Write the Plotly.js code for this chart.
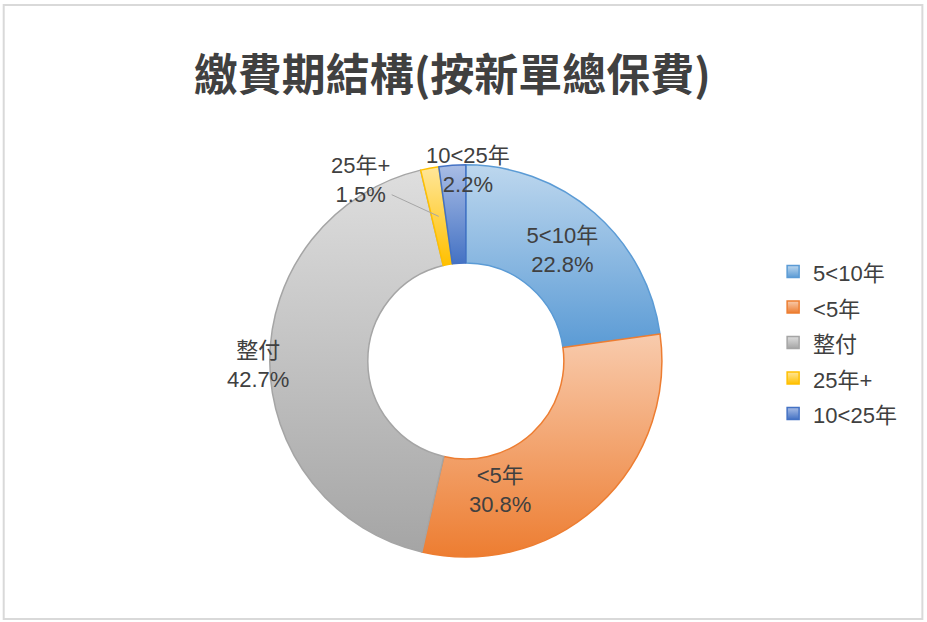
<!DOCTYPE html>
<html>
<head>
<meta charset="utf-8">
<script src="https://cdn.plot.ly/plotly-3.0.1.min.js"></script>
<style>
  html, body { margin: 0; padding: 0; background: #ffffff; }
  #chart { width: 927px; height: 622px; }
</style>
</head>
<body>
<div id="chart"></div>
<script>
// payment-term structure, share of new-business premium (%)
const terms = ['5<10年', '<5年', '整付', '25年+', '10<25年'];
const shares = [22.8, 30.8, 42.7, 1.5, 2.2];
const labelPlace = ['inside', 'none', 'none', 'none', 'none'];

// excel "best fit" label spots: [angle shift from slice middle (deg), radius as share of R]
const labelNudge = [null, [27.7, 0.68], [-0.9, 1.06], [0, 0.75], [4.6, 0.975]];

const theme = {
    text: '#404040',
    font: 'Liberation Sans, Noto Sans CJK TC, sans-serif',
    size: 22,
    edge: ['#5B9BD5', '#ED7D31', '#A5A5A5', '#FFC000', '#4472C4'],
    // [top, bottom] of the excel style gradient
    fill: [['#BDD7EE', '#5B9BD5'], ['#F8CBAD', '#ED7D31'], ['#DEDEDE', '#A5A5A5'],
           ['#FFE699', '#FFC000'], ['#A9BDE5', '#4472C4']]
};

const pieDomain = { x: [0.291, 0.714], y: [0.1045, 0.735] };
const W = 927, H = 622;

function callouts() {
    const total = shares.reduce(function(a, b) { return a + b; }, 0);
    const cx = (pieDomain.x[0] + pieDomain.x[1]) / 2;
    const cy = (pieDomain.y[0] + pieDomain.y[1]) / 2;
    const R = Math.min((pieDomain.x[1] - pieDomain.x[0]) * W, (pieDomain.y[1] - pieDomain.y[0]) * H) / 2;
    const out = [];
    let cum = 0;
    shares.forEach(function(v, i) {
        const mid = (cum + v / 2) / total * 360;
        cum += v;
        if (labelPlace[i] !== 'none') return;
        const a = (mid + labelNudge[i][0]) * Math.PI / 180;
        const r = labelNudge[i][1] * R;
        const ann = {
            x: cx + r * Math.sin(a) / W, y: cy + r * Math.cos(a) / H,
            xref: 'paper', yref: 'paper',
            text: terms[i] + '<br>' + (v / total * 100).toFixed(1) + '%',
            font: { family: theme.font, size: theme.size, color: theme.text },
            showarrow: false, xanchor: 'center', yanchor: 'middle'
        };
        if (i === 3) {
            // thin slice: leader line from the ring to the text
            Object.assign(ann, {
                showarrow: true, arrowhead: 0, arrowwidth: 1, arrowcolor: '#A6A6A6',
                ax: -78, ay: -36, standoff: 0
            });
        }
        out.push(ann);
    });
    return out;
}

function addGradients(gd) {
    const svg = gd.querySelector('svg.main-svg');
    const ns = 'http://www.w3.org/2000/svg';
    let defs = svg.querySelector('defs');
    if (!defs) { defs = document.createElementNS(ns, 'defs'); svg.prepend(defs); }
    theme.fill.forEach(function(c, i) {
        const g = document.createElementNS(ns, 'linearGradient');
        g.setAttribute('id', 'slice-grad-' + i);
        g.setAttribute('x1', '0'); g.setAttribute('y1', '0');
        g.setAttribute('x2', '0'); g.setAttribute('y2', '1');
        [[0, c[0]], [1, c[1]]].forEach(function(s) {
            const st = document.createElementNS(ns, 'stop');
            st.setAttribute('offset', s[0]);
            st.setAttribute('stop-color', s[1]);
            g.appendChild(st);
        });
        defs.appendChild(g);
    });
    gd.querySelectorAll('g.slice').forEach(function(sl, i) {
        const p = sl.querySelector('path.surface');
        if (p) p.style.fill = 'url(#slice-grad-' + i + ')';
    });
    gd.querySelectorAll('g.legend g.traces').forEach(function(tr, i) {
        const p = tr.querySelector('path.legendpie');
        if (p) p.style.fill = 'url(#slice-grad-' + i + ')';
    });
}

const trace = {
    type: 'pie',
    // span keeps the text at 22px while the bigger legend font widens the row spacing
    labels: terms.map(function(t) { return '<span style="font-size:' + theme.size + 'px">' + t + '</span>'; }),
    values: shares,
    hole: 0.5,
    sort: false,
    direction: 'clockwise',
    rotation: 0,
    textposition: labelPlace,
    texttemplate: '%{label}<br>%{percent:.1%}',
    insidetextorientation: 'horizontal',
    textfont: { family: theme.font, size: theme.size, color: theme.text },
    marker: {
        colors: theme.fill.map(function(c) { return c[1]; }),
        line: { color: theme.edge, width: 1.5 }
    },
    domain: pieDomain,
    hoverinfo: 'percent'
};

const layout = {
    width: W,
    height: H,
    margin: { l: 0, r: 0, t: 0, b: 0 },
    paper_bgcolor: '#ffffff',
    title: {
        text: '繳費期結構(按新單總保費)',
        x: 0.488,
        xanchor: 'center',
        y: 0.878,
        yanchor: 'middle',
        font: { family: 'Noto Sans CJK TC, sans-serif', size: 44, weight: 'bold', color: theme.text }
    },
    showlegend: true,
    legend: {
        x: 0.834,
        xanchor: 'left',
        y: 0.449,
        yanchor: 'middle',
        font: { family: theme.font, size: 25, color: theme.text },
        bgcolor: 'rgba(0,0,0,0)'
    },
    annotations: callouts(),
    shapes: [{
        type: 'rect', xref: 'paper', yref: 'paper',
        x0: 0.004, x1: 0.995, y0: 0.005, y1: 0.992,
        line: { color: '#D9D9D9', width: 2 }
    }]
};

Plotly.newPlot('chart', [trace], layout, { displayModeBar: false, staticPlot: true })
    .then(addGradients);
</script>
</body>
</html>
